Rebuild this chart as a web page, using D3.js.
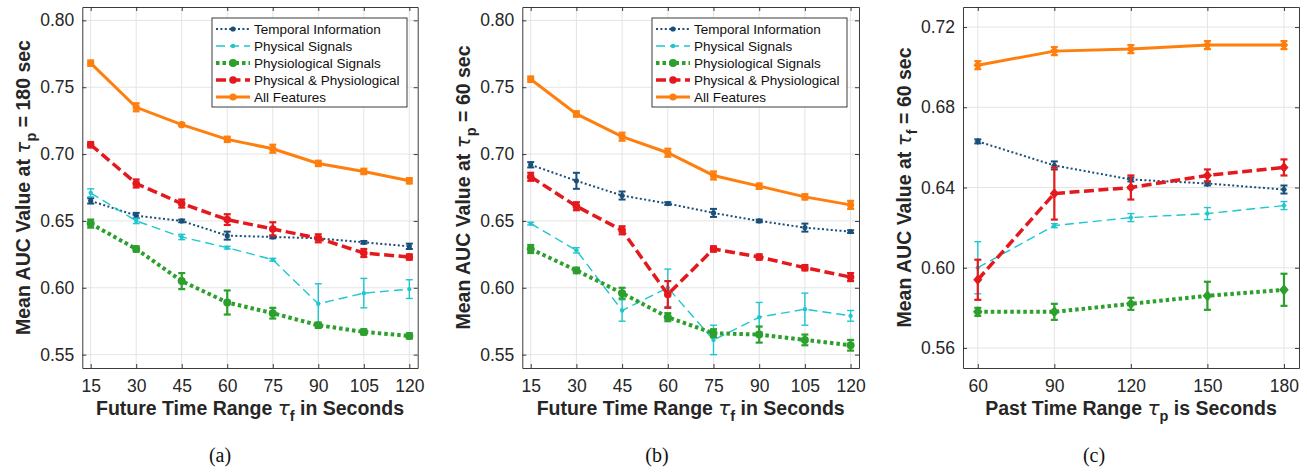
<!DOCTYPE html>
<html>
<head>
<meta charset="utf-8">
<script src="https://cdn.jsdelivr.net/npm/d3@7"></script>
<style>
  body { margin: 0; background: #fff; }
</style>
</head>
<body>
<script>
// x values
var futureRange = [15, 30, 45, 60, 75, 90, 105, 120];
var pastRange = [60, 90, 120, 150, 180];
var seriesNames = ["Temporal Information", "Physical Signals", "Physiological Signals",
  "Physical & Physiological", "All Features"];

// panel (a): tau_p = 180 sec
var aTemporal = [0.665, 0.654, 0.650, 0.639, 0.638, 0.637, 0.634, 0.631];
var aTemporalErr = [0.002, 0.002, 0.001, 0.003, 0.001, 0.001, 0.001, 0.002];
var aPhysical = [0.671, 0.650, 0.638, 0.630, 0.621, 0.588, 0.596, 0.599];
var aPhysicalErr = [0.003, 0.002, 0.002, 0.001, 0.001, 0.015, 0.011, 0.007];
var aPhysio = [0.648, 0.629, 0.605, 0.589, 0.581, 0.572, 0.567, 0.564];
var aPhysioErr = [0.003, 0.002, 0.006, 0.009, 0.004, 0.002, 0.002, 0.002];
var aCombined = [0.707, 0.678, 0.663, 0.651, 0.644, 0.637, 0.626, 0.623];
var aCombinedErr = [0.002, 0.003, 0.003, 0.004, 0.005, 0.003, 0.003, 0.002];
var aAll = [0.768, 0.735, 0.722, 0.711, 0.704, 0.693, 0.687, 0.680];
var aAllErr = [0.002, 0.003, 0.001, 0.002, 0.003, 0.002, 0.002, 0.002];

// panel (b): tau_p = 60 sec
var bTemporal = [0.692, 0.680, 0.669, 0.663, 0.656, 0.650, 0.645, 0.642];
var bTemporalErr = [0.002, 0.006, 0.003, 0.001, 0.003, 0.001, 0.003, 0.001];
var bPhysical = [0.648, 0.628, 0.583, 0.600, 0.561, 0.578, 0.584, 0.579];
var bPhysicalErr = [0.001, 0.002, 0.008, 0.014, 0.011, 0.011, 0.012, 0.004];
var bPhysio = [0.629, 0.613, 0.596, 0.578, 0.566, 0.565, 0.561, 0.557];
var bPhysioErr = [0.003, 0.002, 0.004, 0.003, 0.003, 0.006, 0.004, 0.004];
var bCombined = [0.683, 0.661, 0.643, 0.595, 0.629, 0.623, 0.615, 0.608];
var bCombinedErr = [0.003, 0.003, 0.003, 0.010, 0.002, 0.002, 0.002, 0.003];
var bAll = [0.756, 0.730, 0.713, 0.701, 0.684, 0.676, 0.668, 0.662];
var bAllErr = [0.002, 0.002, 0.003, 0.003, 0.003, 0.002, 0.002, 0.003];

// panel (c): tau_f = 60 sec
var cTemporal = [0.663, 0.651, 0.644, 0.642, 0.639];
var cTemporalErr = [0.001, 0.002, 0.001, 0.001, 0.002];
var cPhysical = [0.600, 0.621, 0.625, 0.627, 0.631];
var cPhysicalErr = [0.013, 0.001, 0.002, 0.003, 0.002];
var cPhysio = [0.578, 0.578, 0.582, 0.586, 0.589];
var cPhysioErr = [0.002, 0.004, 0.003, 0.007, 0.008];
var cCombined = [0.594, 0.637, 0.640, 0.646, 0.650];
var cCombinedErr = [0.010, 0.013, 0.006, 0.003, 0.004];
var cAll = [0.701, 0.708, 0.709, 0.711, 0.711];
var cAllErr = [0.002, 0.002, 0.002, 0.002, 0.002];

// tick labels
var futureTicks = futureRange;
var pastTicks = pastRange;
var yTicksAB = [0.55, 0.60, 0.65, 0.70, 0.75, 0.80];
var yTicksC = [0.56, 0.60, 0.64, 0.68, 0.72];

// line styles, same order as seriesNames
var styles = [
  {color: "#1a4f7a", width: 2, dash: "2,2.4", r: 2.6, cap: 3.5},
  {color: "#1fc6cf", width: 1.4, dash: "9,5", r: 2.2, cap: 3.5},
  {color: "#2ca02c", width: 4, dash: "3.5,3", r: 4, cap: 3.5},
  {color: "#e4191d", width: 3.5, dash: "10,4.5", r: 3.8, cap: 3.5},
  {color: "#ff7f0e", width: 3, dash: null, r: 3.6, cap: 3.5}
];

var width = 1307, height = 473;
var svg = d3.select("body").append("svg")
  .attr("width", width).attr("height", height)
  .style("font-family", "'Liberation Sans', Arial, sans-serif");

var axisColor = "#262626";
var tauFont = "'DejaVu Sans', sans-serif";

// adds "<start> τ_sub <end>" as tspans to a text element
function addTauLabel(t, start, sub, end) {
  t.append("tspan").text(start + " ");
  t.append("tspan").style("font-family", tauFont).attr("font-style", "italic")
    .attr("font-weight", "normal").style("font-size", "20px").text("\u03c4");
  t.append("tspan").attr("dy", 6).style("font-size", "14.5px").text(sub);
  t.append("tspan").attr("dy", -6).text(" " + end);
}

// diamond path, a bit wider than d3's own
function diamondPath(r) {
  var w = r * 1.2, h = r * 1.4;
  return `M0,${-h}L${w},0L0,${h}L${-w},0Z`;
}

// draws one subplot; p holds geometry + data for the panel
function drawPanel(p) {
  var x = d3.scaleLinear().domain(p.xDomain).range([p.left, p.right]);
  var y = d3.scaleLinear().domain(p.yDomain).range([p.bottom, p.top]);
  var g = svg.append("g");

  // grid
  g.selectAll(".gx").data(p.xTicks).join("line")
    .attr("x1", d => x(d)).attr("x2", d => x(d))
    .attr("y1", p.top).attr("y2", p.bottom)
    .attr("stroke", "#e4e4e4").attr("stroke-width", 1);
  g.selectAll(".gy").data(p.yTicks).join("line")
    .attr("y1", d => y(d)).attr("y2", d => y(d))
    .attr("x1", p.left).attr("x2", p.right)
    .attr("stroke", "#e4e4e4").attr("stroke-width", 1);

  // axes, ticks point inward
  var bottomAxis = g.append("g").attr("transform", `translate(0,${p.bottom})`)
    .call(d3.axisBottom(x).tickValues(p.xTicks).tickSizeInner(-4).tickSizeOuter(0).tickPadding(12));
  var leftAxis = g.append("g").attr("transform", `translate(${p.left},0)`)
    .call(d3.axisLeft(y).tickValues(p.yTicks).tickFormat(d3.format(".2f"))
      .tickSizeInner(-4).tickSizeOuter(0).tickPadding(8));
  var topAxis = g.append("g").attr("transform", `translate(0,${p.top})`)
    .call(d3.axisTop(x).tickValues(p.xTicks).tickSizeInner(-4).tickSizeOuter(0).tickFormat(""));
  var rightAxis = g.append("g").attr("transform", `translate(${p.right},0)`)
    .call(d3.axisRight(y).tickValues(p.yTicks).tickSizeInner(-4).tickSizeOuter(0).tickFormat(""));

  [bottomAxis, leftAxis, topAxis, rightAxis].forEach(function(a) {
    a.attr("font-family", null).attr("font-size", null);
    a.selectAll("path,line").attr("stroke", axisColor).attr("stroke-width", 0.9);
    a.selectAll("text").attr("fill", axisColor).style("font-size", "17.5px");
  });

  // series
  for (var i = 0; i < p.series.length; ++i) {
    var s = styles[i];
    var pts = p.xValues.map((xv, j) => ({x: xv, y: p.series[i][j], e: p.errors[i][j]}));
    var line = d3.line().x(d => x(d.x)).y(d => y(d.y));

    g.append("path").datum(pts)
      .attr("d", line)
      .attr("fill", "none")
      .attr("stroke", s.color)
      .attr("stroke-width", s.width)
      .attr("stroke-dasharray", s.dash);

    // error bars
    var eb = g.append("g").attr("stroke", s.color)
      .attr("stroke-width", Math.min(s.width, 2.2));
    eb.selectAll(".v").data(pts).join("line")
      .attr("x1", d => x(d.x)).attr("x2", d => x(d.x))
      .attr("y1", d => y(d.y - d.e)).attr("y2", d => y(d.y + d.e));
    eb.selectAll(".t").data(pts).join("line")
      .attr("x1", d => x(d.x) - s.cap).attr("x2", d => x(d.x) + s.cap)
      .attr("y1", d => y(d.y + d.e)).attr("y2", d => y(d.y + d.e));
    eb.selectAll(".b").data(pts).join("line")
      .attr("x1", d => x(d.x) - s.cap).attr("x2", d => x(d.x) + s.cap)
      .attr("y1", d => y(d.y - d.e)).attr("y2", d => y(d.y - d.e));

    // markers
    if (p.marker == "diamond") {
      g.selectAll(null).data(pts).join("path")
        .attr("d", diamondPath(s.r))
        .attr("transform", d => `translate(${x(d.x)},${y(d.y)})`)
        .attr("fill", s.color);
    } else {
      g.selectAll(null).data(pts).join("circle")
        .attr("cx", d => x(d.x)).attr("cy", d => y(d.y))
        .attr("r", s.r).attr("fill", s.color);
    }
  }

  // y label with tau and subscript
  var yl = g.append("text")
    .attr("transform", `translate(${p.left - 52},${(p.top + p.bottom) / 2}) rotate(-90)`)
    .attr("text-anchor", "middle")
    .style("font-size", "19.5px").attr("font-weight", "bold").attr("fill", axisColor);
  addTauLabel(yl, "Mean AUC Value at", p.ySub, "= " + p.yVal + " sec");

  // x label
  var xl = g.append("text")
    .attr("x", (p.left + p.right) / 2).attr("y", 415)
    .attr("text-anchor", "middle")
    .style("font-size", "19.5px").attr("font-weight", "bold").attr("fill", axisColor);
  addTauLabel(xl, p.xLabelStart, p.xSub, p.xLabelEnd);

  // caption
  svg.append("text")
    .attr("x", p.captionX).attr("y", 462)
    .attr("text-anchor", "middle")
    .style("font-family", "'Liberation Serif', 'Times New Roman', serif")
    .style("font-size", "20px").attr("fill", "#111")
    .text(p.caption);

  // legend
  if (p.legend) {
    var lg = svg.append("g").attr("transform", `translate(${p.legend.x},${p.legend.y})`);
    lg.append("rect").attr("width", 195).attr("height", 89)
      .attr("fill", "#fff").attr("stroke", axisColor).attr("stroke-width", 0.9);
    seriesNames.forEach(function(name, k) {
      var s = styles[k], ry = 11 + k * 17;
      lg.append("line").attr("x1", 4).attr("x2", 38).attr("y1", ry).attr("y2", ry)
        .attr("stroke", s.color).attr("stroke-width", s.width)
        .attr("stroke-dasharray", s.dash);
      lg.append("circle").attr("cx", 21).attr("cy", ry).attr("r", s.r).attr("fill", s.color);
      lg.append("text").attr("x", 42).attr("y", ry + 5)
        .style("font-size", "13.5px").attr("fill", "#111").text(name);
    });
  }
}

drawPanel({
  left: 82.3, right: 417.7, top: 7, bottom: 368,
  xDomain: [12.24, 122.76], yDomain: [0.54, 0.81],
  xTicks: futureTicks, yTicks: yTicksAB, xValues: futureRange,
  series: [aTemporal, aPhysical, aPhysio, aCombined, aAll],
  errors: [aTemporalErr, aPhysicalErr, aPhysioErr, aCombinedErr, aAllErr],
  marker: "circle", ySub: "p", yVal: "180",
  xLabelStart: "Future Time Range", xSub: "f", xLabelEnd: "in Seconds",
  caption: "(a)", captionX: 220,
  legend: {x: 212, y: 18}
});

drawPanel({
  left: 522.3, right: 859, top: 7, bottom: 368,
  xDomain: [12.24, 122.76], yDomain: [0.54, 0.81],
  xTicks: futureTicks, yTicks: yTicksAB, xValues: futureRange,
  series: [bTemporal, bPhysical, bPhysio, bCombined, bAll],
  errors: [bTemporalErr, bPhysicalErr, bPhysioErr, bCombinedErr, bAllErr],
  marker: "circle", ySub: "p", yVal: "60",
  xLabelStart: "Future Time Range", xSub: "f", xLabelEnd: "in Seconds",
  caption: "(b)", captionX: 657,
  legend: {x: 652, y: 18}
});

drawPanel({
  left: 963, right: 1299, top: 7, bottom: 368,
  xDomain: [54.2, 185.9], yDomain: [0.55, 0.73],
  xTicks: pastTicks, yTicks: yTicksC, xValues: pastRange,
  series: [cTemporal, cPhysical, cPhysio, cCombined, cAll],
  errors: [cTemporalErr, cPhysicalErr, cPhysioErr, cCombinedErr, cAllErr],
  marker: "diamond", ySub: "f", yVal: "60",
  xLabelStart: "Past Time Range", xSub: "p", xLabelEnd: "is Seconds",
  caption: "(c)", captionX: 1094,
  legend: null
});
</script>
</body>
</html>
